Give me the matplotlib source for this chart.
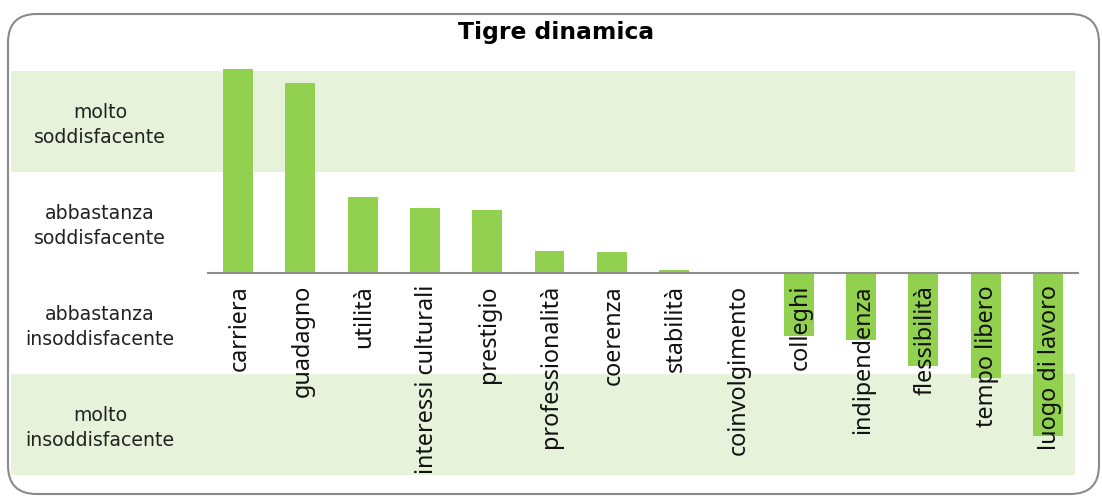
import matplotlib
matplotlib.use("Agg")
import matplotlib.pyplot as plt
from matplotlib.patches import FancyBboxPatch

# Satisfaction scores per job aspect (+2 = molto soddisfacente, -2 = molto insoddisfacente)
categories = [
    "carriera", "guadagno", "utilità", "interessi culturali", "prestigio",
    "professionalità", "coerenza", "stabilità", "coinvolgimento", "colleghi",
    "indipendenza", "flessibilità", "tempo libero", "luogo di lavoro",
]
scores = [2.02, 1.88, 0.75, 0.64, 0.62, 0.22, 0.21, 0.03, -0.01,
          -0.62, -0.66, -0.92, -1.04, -1.61]

band_labels = [
    "molto\nsoddisfacente",
    "abbastanza\nsoddisfacente",
    "abbastanza\ninsoddisfacente",
    "molto\ninsoddisfacente",
]
band_centers = [1.5, 0.5, -0.5, -1.5]

title = "Tigre dinamica"

BAR = "#92D050"
BAND = "#E6F3DA"

W, H = 1102, 498
fig = plt.figure(figsize=(W / 100, H / 100), dpi=100)

# rounded frame around the whole chart
frame = FancyBboxPatch((8 / W, 4 / H), 1091 / W, 480 / H,
                       boxstyle="round,pad=0,rounding_size=0.026",
                       transform=fig.transFigure, fill=False,
                       edgecolor="#8a8a8a", linewidth=1.5,
                       mutation_aspect=W / H)
fig.patches.append(frame)

# axes spans from the band labels to the right end of the baseline
ax = fig.add_axes([11 / W, 1 - 480 / H, (1079 - 11) / W, 420 / H])
pitch = 62.3
x_left = -0.5 - (207 - 11) / pitch
ax.set_xlim(x_left, 13.5)
ax.set_ylim((273 - 480) / 101, (273 - 60) / 101)
ax.axis("off")

band_xmax = (1075 - 11) / (1079 - 11)
ax.axhspan(1, 2, xmin=0, xmax=band_xmax, color=BAND, lw=0, zorder=0)
ax.axhspan(-2, -1, xmin=0, xmax=band_xmax, color=BAND, lw=0, zorder=0)

xs = list(range(len(categories)))
ax.bar(xs, scores, width=0.48, color=BAR, zorder=2)
ax.hlines(0, -0.5, 13.5, color="#8c8c8c", lw=1.5, zorder=3)

for x, lab in zip(xs, categories):
    ax.text(x + 0.03, -0.12, lab, rotation=90, ha="center", va="top",
            fontsize=16.8, family="Noto Sans", color="#111111", zorder=4)

label_x = -0.5 - (207 - 100) / pitch
for y, lab in zip(band_centers, band_labels):
    ax.text(label_x, y - 0.03, lab, ha="center", va="center", fontsize=13.6,
            family="DejaVu Sans", color="#222222", linespacing=1.4)

fig.text(556 / W, 1 - 33 / H, title, ha="center", va="center",
         fontsize=16.8, fontweight="bold", family="DejaVu Sans")

fig.savefig("out.png", dpi=100)
